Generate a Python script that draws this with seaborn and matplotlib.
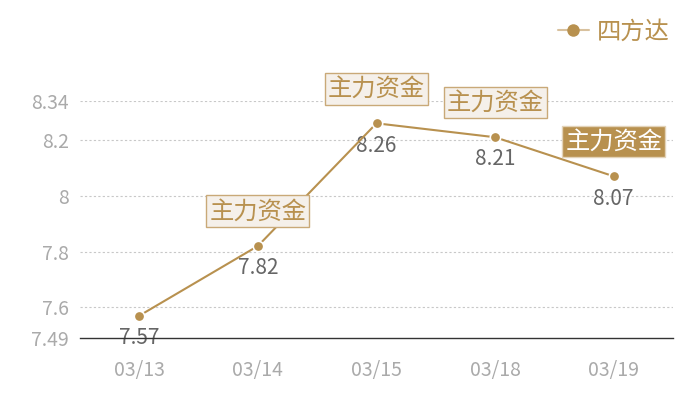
import numpy as np
import pandas as pd
import matplotlib
matplotlib.use("Agg")
import matplotlib.pyplot as plt
import seaborn as sns

# data
dates = ["03/13", "03/14", "03/15", "03/18", "03/19"]
prices = [7.57, 7.82, 8.26, 8.21, 8.07]
y_ticks = [7.49, 7.6, 7.8, 8, 8.2, 8.34]
y_tick_labels = ["7.49", "7.6", "7.8", "8", "8.2", "8.34"]
flag_dates = ["03/14", "03/15", "03/18", "03/19"]
flag_text = "主力资金"
series_name = "四方达"

gold = "#b8914f"
df = pd.DataFrame({"date": dates, "price": prices})

sns.set_theme(style="white")
plt.rcParams["font.family"] = ["Noto Sans CJK SC", "DejaVu Sans"]

fig = plt.figure(figsize=(7, 4), dpi=100)
ax = fig.add_axes([80 / 700, 62 / 400, 593 / 700, 237 / 400])

sns.lineplot(data=df, x="date", y="price", ax=ax, color=gold, linewidth=1.5,
             marker="o", markersize=7.5, markeredgecolor="white",
             markeredgewidth=1.2, label=series_name, sort=False, zorder=3)

ax.set_xlim(-0.5, len(dates) - 0.5)
ax.set_ylim(y_ticks[0], y_ticks[-1])
ax.set_yticks(y_ticks)
ax.set_yticklabels(y_tick_labels)
for t in y_ticks[1:]:
    ax.axhline(t, color="#c8c8c8", linestyle=(0, (2, 2)), linewidth=0.8, zorder=0)

for s in ["top", "right", "left"]:
    ax.spines[s].set_visible(False)
ax.spines["bottom"].set_color("#333333")
ax.spines["bottom"].set_linewidth(1.0)
ax.spines["bottom"].set_zorder(5)
ax.tick_params(axis="both", length=0, labelsize=14, labelcolor="#aaaaaa")
ax.tick_params(axis="x", pad=16)
ax.tick_params(axis="y", pad=8)
ax.set_xlabel("")
ax.set_ylabel("")

# value labels
for i, v in enumerate(prices):
    ax.annotate(f"{v:.2f}", (i, v), xytext=(0, -16), textcoords="offset points",
                ha="center", va="center", fontsize=15, color="#666666", zorder=2)

# flag boxes
for d in flag_dates:
    i = dates.index(d)
    last = d == flag_dates[-1]
    ax.annotate(flag_text, (i, prices[i]), xytext=(0, 25),
                textcoords="offset points", ha="center", va="center",
                fontsize=17.5, color="white" if last else gold, zorder=6,
                bbox=dict(boxstyle="square,pad=0.12",
                          fc=gold if last else "#f5f0ea",
                          ec="#e3d3b8" if last else "#c9a978", lw=1.0))

leg = ax.legend(loc="upper right", bbox_to_anchor=(1.01, 1.39), frameon=False,
                fontsize=17.5, handlelength=1.3, handletextpad=0.3,
                borderaxespad=0)
for t in leg.get_texts():
    t.set_color(gold)
for h in leg.legend_handles:
    h.set_markersize(9)
    h.set_markeredgewidth(0)
    h.set_color("#d8c19e")
    h.set_markerfacecolor(gold)

fig.savefig("out.png", dpi=100)
